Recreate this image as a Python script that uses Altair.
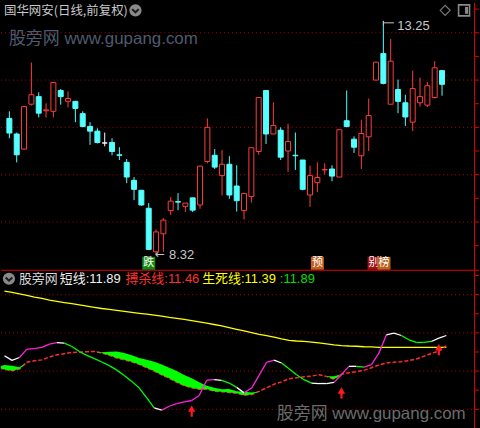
import altair as alt
import pandas as pd

# ---------------- daily candles, 60 sessions ----------------
OPEN = [11.19, 10.86, 10.54, 11.49, 11.65, 11.35, 11.34, 11.78, 11.55, 11.55,
        11.29, 11.02, 10.92, 10.67, 10.68, 10.42, 10.26, 9.88, 9.67, 9.29,
        8.37, 8.75, 9.24, 9.43, 9.33, 9.51, 9.36, 10.28, 10.41, 9.98,
        10.22, 9.76, 9.24, 9.54, 10.49, 11.78, 10.86, 10.94, 10.50, 10.41,
        10.31, 9.57, 9.83, 10.10, 10.12, 9.95, 11.14, 10.75, 10.40, 10.80,
        12.00, 12.56, 11.49, 11.80, 11.52, 11.11, 11.52, 11.47, 11.63, 12.20]
CLOSE = [10.88, 10.42, 11.44, 11.69, 11.30, 11.37, 11.95, 11.65, 11.61, 11.40,
         11.02, 10.92, 10.68, 10.67, 10.49, 10.41, 9.95, 9.69, 9.36, 8.42,
         8.79, 9.04, 9.44, 9.42, 9.40, 9.25, 10.18, 11.00, 10.16, 10.22,
         9.57, 9.45, 9.60, 10.57, 11.63, 10.86, 11.04, 10.37, 10.70, 10.40,
         9.69, 9.98, 9.94, 10.11, 9.97, 10.95, 11.02, 10.58, 10.87, 11.25,
         12.38, 11.93, 12.40, 11.55, 11.22, 11.82, 11.65, 11.88, 12.26, 11.91]
HIGH = [11.34, 10.89, 11.45, 12.37, 11.74, 11.51, 11.96, 11.81, 11.76, 11.56,
        11.34, 11.11, 10.98, 10.89, 10.77, 10.58, 10.33, 9.95, 9.68, 9.40,
        8.84, 9.08, 9.53, 9.61, 9.40, 9.51, 10.18, 11.19, 10.54, 10.52,
        10.39, 10.20, 9.60, 10.57, 11.63, 11.78, 11.53, 11.00, 11.08, 10.89,
        10.31, 10.19, 10.26, 10.24, 10.20, 10.95, 11.78, 10.81, 11.16, 11.61,
        12.38, 13.25, 12.87, 12.01, 11.69, 12.20, 12.05, 11.96, 12.40, 12.20]
LOW = [10.77, 10.26, 10.53, 11.46, 11.21, 11.21, 11.21, 11.48, 11.42, 11.11,
       11.00, 10.63, 10.66, 10.60, 10.41, 10.31, 9.82, 9.46, 9.34, 8.41,
       8.32, 8.37, 9.15, 9.25, 9.21, 9.21, 9.28, 10.24, 10.12, 9.56,
       9.49, 9.22, 9.05, 9.41, 10.42, 10.65, 10.86, 10.31, 10.06, 10.10,
       9.67, 9.32, 9.63, 10.00, 9.86, 9.95, 11.00, 10.46, 10.12, 10.50,
       12.00, 11.91, 11.49, 11.30, 11.03, 10.92, 11.44, 11.43, 11.61, 11.67]

# ---------------- indicator panel ----------------
SHORT_LINE = [11.04, 10.85, 10.97, 11.32, 11.34, 11.39, 11.53, 11.59, 11.57, 11.43,
              11.22, 11.06, 10.92, 10.78, 10.63, 10.44, 10.22, 9.97, 9.69, 9.28,
              8.86, 8.77, 8.93, 9.04, 9.11, 9.17, 9.38, 10.02, 10.04, 10.01,
              9.90, 9.72, 9.49, 9.69, 10.22, 10.77, 10.86, 10.74, 10.50, 10.25,
              10.04, 9.90, 9.88, 9.88, 9.93, 10.25, 10.60, 10.60, 10.57, 10.67,
              11.15, 11.92, 11.99, 11.89, 11.71, 11.60, 11.60, 11.64, 11.78, 11.89]
# colour of each short-line segment: w = flat, m = rising, g = falling
SHORT_COLOR_RUNS = [("w", 2), ("m", 5), ("w", 1), ("g", 12), ("w", 1), ("m", 7),
                    ("w", 1), ("g", 2), ("w", 1), ("m", 4), ("w", 1), ("g", 4),
                    ("w", 3), ("m", 2), ("w", 1), ("g", 1), ("m", 3), ("w", 2),
                    ("g", 4), ("w", 2)]
# 搏杀线; the first KILL_LEAD values are the sessions just before the window
KILL_LEAD = 3
KILL_LINE = [10.66, 10.62, 10.56,
             10.47, 10.42, 10.49, 10.77, 10.83, 10.87, 10.99, 11.08, 11.13, 11.18,
             11.19, 11.21, 11.22, 11.16, 11.06, 10.95, 10.87, 10.79, 10.68, 10.54,
             10.40, 10.24, 10.10, 9.93, 9.79, 9.70, 9.64, 9.65, 9.56, 9.54,
             9.50, 9.47, 9.39, 9.42, 9.55, 9.70, 9.85, 9.95, 10.08, 10.12,
             10.16, 10.19, 10.25, 10.18, 10.06, 10.27, 10.33, 10.38, 10.43, 10.54,
             10.66, 10.74, 10.77, 10.79, 10.84, 10.91, 11.02, 11.14, 11.24, 11.46]
LIFE_LINE = [13.75, 13.69, 13.63, 13.57, 13.50, 13.44, 13.37, 13.32, 13.27, 13.22,
             13.17, 13.12, 13.07, 13.02, 12.98, 12.94, 12.90, 12.86, 12.82, 12.78,
             12.74, 12.70, 12.65, 12.61, 12.56, 12.51, 12.46, 12.41, 12.35, 12.29,
             12.22, 12.15, 12.08, 12.01, 11.94, 11.88, 11.82, 11.75, 11.69, 11.66,
             11.64, 11.61, 11.58, 11.54, 11.50, 11.47, 11.45, 11.44, 11.42, 11.41,
             11.39, 11.39, 11.39, 11.39, 11.39, 11.39, 11.39, 11.39, 11.39, 11.39]

ARROW_IDX = [25, 45, 58]
ARROW_TIP = [8.93, 9.69, 11.50]

PRICE_GRID = [9, 10, 11, 12, 13]
PRICE_TICKS = [8.5, 9, 9.5, 10, 10.5, 11, 11.5, 12, 12.5, 13, 13.5]
IND_GRID = [8.8, 10.4, 12.0, 13.6]
IND_TICKS = [8.8, 9.6, 10.4, 11.2, 12.0, 12.8, 13.6, 14.4]

TITLE = "国华网安(日线,前复权)"
WATERMARK = "股旁网 www.gupang.com"

# ---------------- styling ----------------
W, H_TOP, H_BOT = 480, 268, 160
X_DOM = [-0.465, 63.364]
PRICE_DOM = [7.9895, 13.6316]
IND_DOM = [7.973, 14.64]
RED, CYAN = "#ff3c3c", "#54ffff"
AXIS_RED = "#dd0000"
GRID_RED = "#b00000"
PALETTE = {"w": "#ffffff", "m": "#ff22dd", "g": "#00ff00"}
LATIN_CJK = "Liberation Sans, Noto Sans CJK SC"

ONE = pd.DataFrame({"k": [0]})


def xq(field="i"):
    return alt.X(f"{field}:Q", scale=alt.Scale(domain=X_DOM, nice=False, zero=False), axis=None)


def yp(field):
    return alt.Y(f"{field}:Q", scale=alt.Scale(domain=PRICE_DOM, nice=False, zero=False), axis=None)


def yi(field):
    return alt.Y(f"{field}:Q", scale=alt.Scale(domain=IND_DOM, nice=False, zero=False), axis=None)


def label(text, x, y, color, size=13, font=LATIN_CJK, align="left", baseline="middle"):
    return alt.Chart(pd.DataFrame({"t": [text]})).mark_text(
        align=align, baseline=baseline, font=font, fontSize=size, color=color
    ).encode(x=alt.value(x), y=alt.value(y), text="t:N")


def chevron_icon(x, y):
    disc = alt.Chart(ONE).mark_point(shape="circle", size=150, filled=True, color="#8a8a8a",
                                     opacity=1).encode(x=alt.value(x), y=alt.value(y))
    mark = alt.Chart(ONE).mark_point(shape="M-0.55,-0.2L0,0.32L0.55,-0.2", size=150, filled=False,
                                     color="#1a1a1a", strokeWidth=2, opacity=1
                                     ).encode(x=alt.value(x), y=alt.value(y))
    return disc + mark


# ================= price panel =================
n = len(OPEN)
candles = pd.DataFrame({"i": range(n), "open": OPEN, "high": HIGH, "low": LOW, "close": CLOSE})
cbase = alt.Chart(candles).transform_calculate(
    col=f"datum.close > datum.open ? '{RED}' : (datum.close < datum.open ? '{CYAN}' : '#ffffff')",
    body_fill="datum.close > datum.open ? '#000000' : datum.col",
    top="max(datum.open, datum.close)",
    bot="min(datum.open, datum.close)",
)
wicks = cbase.mark_rule(strokeWidth=1).encode(
    x=xq(), y=yp("low"), y2="high:Q", color=alt.Color("col:N", scale=None))
bodies = cbase.mark_bar(size=5, strokeWidth=1, orient="vertical").encode(
    x=xq(), y=yp("top"), y2="bot:Q",
    fill=alt.Fill("body_fill:N", scale=None), stroke=alt.Stroke("col:N", scale=None))

price_grid = alt.Chart(pd.DataFrame({"lv": PRICE_GRID})).mark_rule(
    color=GRID_RED, strokeDash=[1, 3], strokeWidth=1).encode(
    y=yp("lv"), x=alt.value(0), x2=alt.value(474))
price_ticks = alt.Chart(pd.DataFrame({"lv": PRICE_TICKS})).mark_rule(
    color=AXIS_RED, strokeWidth=1).encode(y=yp("lv"), x=alt.value(476), x2=alt.value(480))
price_axis = alt.Chart(ONE).mark_rule(color=AXIS_RED, strokeWidth=1).encode(
    x=alt.value(475.5), y=alt.value(0), y2=alt.value(H_TOP))

# extreme markers
hi_i = HIGH.index(max(HIGH))
lo_i = LOW.index(min(LOW))
hi_df = pd.DataFrame({"i": [hi_i], "v": [HIGH[hi_i]], "t": [f"{HIGH[hi_i]:.2f}"]})
lo_df = pd.DataFrame({"i": [lo_i], "v": [LOW[lo_i]], "t": [f"{LOW[lo_i]:.2f}"]})
hi_base = alt.Chart(hi_df).transform_calculate(
    i2="datum.i + 1.45", vlow="datum.v - 0.1", vmid="datum.v - 0.04")
hi_stem = hi_base.mark_rule(color="#c8c8c8", strokeWidth=1).encode(x=xq(), y=yp("v"), y2="vlow:Q")
hi_flag = hi_base.mark_rule(color="#c8c8c8", strokeWidth=1).encode(x=xq(), x2="i2:Q", y=yp("vmid"))
hi_text = hi_base.mark_text(align="left", baseline="middle", dx=14, font="Liberation Sans",
                            fontSize=13, color="#c8c8c8").encode(x=xq(), y=yp("vlow"), text="t:N")
lo_arrow = alt.Chart(lo_df).mark_text(align="left", baseline="middle", dx=-1, dy=0,
                                      font="DejaVu Sans", fontSize=12, color="#c8c8c8"
                                      ).encode(x=xq(), y=yp("v"), text=alt.value("←"))
lo_text = alt.Chart(lo_df).mark_text(align="left", baseline="middle", dx=13, dy=1,
                                     font="Liberation Sans", fontSize=13, color="#c8c8c8"
                                     ).encode(x=xq(), y=yp("v"), text="t:N")

# signal tags under the candles
SIGNALS = [(19, "跌", "#108a10", 0), (42, "预", "#c4601c", 0),
           (50, "别", "#a01010", -2), (50, "榜", "#b8621e", 8)]
tags = []
for si, ch, bg, off in SIGNALS:
    sdf = pd.DataFrame({"i": [si], "t": [ch]})
    tags.append(alt.Chart(sdf).mark_square(size=170, color=bg, opacity=1, xOffset=off)
                .encode(x=xq(), y=alt.value(261.5)))
    tags.append(alt.Chart(sdf).mark_text(font="Noto Sans CJK SC", fontSize=11, color="#ffffff",
                                         baseline="middle", dx=off)
                .encode(x=xq(), y=alt.value(261.5), text="t:N"))

diamond = alt.Chart(ONE).mark_point(shape="diamond", size=100, filled=False, color="#7a7a7a",
                                    strokeWidth=1.2, opacity=1).encode(x=alt.value(446), y=alt.value(7.5))
box = alt.Chart(ONE).mark_point(shape="square", size=121, filled=False, color="#8a8a8a",
                                strokeWidth=1.6, opacity=1).encode(x=alt.value(465), y=alt.value(7.5))
box_bar = alt.Chart(ONE).mark_rect(color="#8a8a8a").encode(
    x=alt.value(466), x2=alt.value(469), y=alt.value(4), y2=alt.value(11))

top = alt.layer(
    price_grid, wicks, bodies,
    label(WATERMARK, 8, 36, "#4e5b6e", size=17),
    label(TITLE, 3, 8, "#c8c8c8", size=12.5, font="Noto Sans CJK SC"),
    chevron_icon(135, 7.5), diamond, box, box_bar,
    hi_stem, hi_flag, hi_text, lo_arrow, lo_text, *tags,
    price_axis, price_ticks,
).properties(width=W, height=H_TOP)

# ================= indicator panel =================
life_df = pd.DataFrame({"i": range(n), "v": LIFE_LINE})
kill_df = pd.DataFrame({"i": range(-KILL_LEAD, n), "A": KILL_LINE})

colors = "".join(c * k for c, k in SHORT_COLOR_RUNS)
assert len(colors) == n - 1
seg_rows = []
for k in range(n - 1):
    for j in (k, k + 1):
        seg_rows.append({"seg": k, "i": j, "v": SHORT_LINE[j], "c": PALETTE[colors[k]]})
short_df = pd.DataFrame(seg_rows)

ind_grid = alt.Chart(pd.DataFrame({"lv": IND_GRID})).mark_rule(
    color=GRID_RED, strokeDash=[1, 3], strokeWidth=1).encode(
    y=yi("lv"), x=alt.value(0), x2=alt.value(474))
ind_ticks = alt.Chart(pd.DataFrame({"lv": IND_TICKS})).mark_rule(
    color=AXIS_RED, strokeWidth=1).encode(y=yi("lv"), x=alt.value(476), x2=alt.value(480))
ind_axis = alt.Chart(ONE).mark_rule(color=AXIS_RED, strokeWidth=1).encode(
    x=alt.value(475.5), y=alt.value(0), y2=alt.value(H_BOT))
separator = alt.Chart(ONE).mark_rule(color=AXIS_RED, strokeWidth=1).encode(
    x=alt.value(0), x2=alt.value(W), y=alt.value(0.5))

life = alt.Chart(life_df).mark_line(color="#ffff00", strokeWidth=1.3).encode(x=xq(), y=yi("v"))
kill = alt.Chart(kill_df).mark_line(color="#ff2a2a", strokeWidth=1.5, strokeDash=[4, 2],
                                    clip=True).encode(x=xq(), y=yi("A"))
band = alt.Chart(kill_df).transform_window(
    window=[alt.WindowFieldDef(**{"op": "lag", "field": "A", "param": KILL_LEAD, "as": "ref"})],
    sort=[alt.SortField("i", order="ascending")],
).transform_calculate(
    top="isValid(datum.ref) ? max(datum.A, datum.ref) : datum.A"
).mark_area(color="#00ff00", clip=True, orient="vertical", opacity=1).encode(
    x=xq(), y=yi("A"), y2="top:Q")
short = alt.Chart(short_df).mark_line(strokeWidth=1.3).encode(
    x=xq(), y=yi("v"), detail="seg:N", color=alt.Color("c:N", scale=None))

arrow_df = pd.DataFrame({"i": ARROW_IDX, "tip": ARROW_TIP})
arrow_base = alt.Chart(arrow_df).transform_calculate(
    head="datum.tip - 0.1", s0="datum.tip - 0.16", s1="datum.tip - 0.44")
arrow_head = arrow_base.mark_point(shape="triangle-up", size=55, filled=True, color="#ff1a1a",
                                   opacity=1).encode(x=xq(), y=yi("head"))
arrow_stem = arrow_base.mark_rule(color="#ff1a1a", strokeWidth=2.2).encode(
    x=xq(), y=yi("s0"), y2="s1:Q")

bottom = alt.layer(
    ind_grid, life, kill, band, short, arrow_stem, arrow_head,
    chevron_icon(8, 9),
    label("股旁网", 18, 9, "#d8d8d8"),
    label(f"短线:{SHORT_LINE[-1]:.2f}", 59, 9, "#f2f2f2"),
    label(f"搏杀线:{KILL_LINE[-1]:.2f}", 125, 9, "#ff3030"),
    label(f"生死线:{LIFE_LINE[-1]:.2f}", 202, 9, "#ffff00"),
    label(f":{SHORT_LINE[-1]:.2f}", 280, 9, "#00e000"),
    label(WATERMARK, 277, 145, "#6c6c6c", size=17),
    separator, ind_axis, ind_ticks,
).properties(width=W, height=H_BOT)

chart = alt.vconcat(top, bottom, spacing=0).properties(
    padding=0, bounds="flush"
).configure(background="#000000").configure_view(strokeWidth=0)

chart.save("out.html", embed_options={"renderer": "svg", "actions": False})
